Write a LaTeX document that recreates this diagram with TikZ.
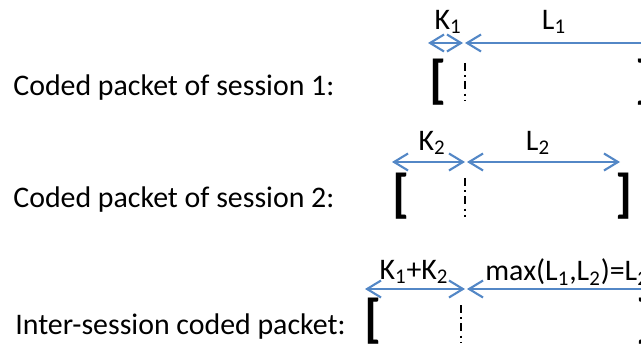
\documentclass[tikz,border=0pt]{standalone}
\usepackage{fontspec}
\setmainfont{Carlito}
\usetikzlibrary{calc,arrows.meta}

\definecolor{dimblue}{RGB}{83,135,198}

\begin{document}
\begin{tikzpicture}[x=0.02cm,y=0.02cm,
  dimarrow/.style={draw=dimblue, line width=1.2pt,
    {Straight Barb[length=2.8mm,width=3.4mm]}-{Straight Barb[length=2.8mm,width=3.4mm]}},
  divider/.style={draw=black, line width=0.8pt, dash pattern=on 4.5pt off 2.5pt on 1pt off 2.5pt},
  brkt/.style={inner sep=0pt, font=\fontsize{30}{34}\selectfont\bfseries},
  lbl/.style={inner sep=0pt, font=\fontsize{17}{20}\selectfont}]
  \useasboundingbox (0,0) rectangle (641,-347);
  \clip (0,0) rectangle (641,-347);

  %% Row labels
  \node[lbl, anchor=west] (ROW1) at (13,-88)  {Coded packet of session 1:};
  \node[lbl, anchor=west] (ROW2) at (13,-200) {Coded packet of session 2:};
  \node[lbl, anchor=west] (ROW3) at (15,-327) {Inter-session coded packet:};

  %% Dimension arrows: row / arrow height / left / middle / right
  \foreach \r/\ya/\xl/\xm/\xr in {1/43/428/464/700, 2/162/392/466/620, 3/289/365/466/700}
  {
    \coordinate (AL\r) at (\xl,-\ya);
    \coordinate (AM\r) at (\xm,-\ya);
    \coordinate (AR\r) at (\xr,-\ya);
    \draw[dimarrow] (AL\r) -- ($(AM\r)-(1,0)$);
    \draw[dimarrow] ($(AM\r)+(1,0)$) -- (AR\r);
  }

  %% Dimension labels
  \node[lbl] (K1) at (448,-22)  {K\textsubscript{1}};
  \node[lbl] (L1) at (554,-22)  {L\textsubscript{1}};
  \node[lbl] (K2) at (432,-143) {K\textsubscript{2}};
  \node[lbl] (L2) at (538,-143) {L\textsubscript{2}};
  \node[lbl] (K12) at (414,-272) {K\textsubscript{1}+K\textsubscript{2}};
  \node[lbl, anchor=west] (LMAX) at (485,-272) {max(L\textsubscript{1},L\textsubscript{2})=L\textsubscript{2}};

  %% Packet brackets
  \node[brkt] (OPEN1)  at (438,-82)  {[};
  \node[brkt] (CLOSE1) at (644,-82)  {]};
  \node[brkt] (OPEN2)  at (401,-196) {[};
  \node[brkt] (CLOSE2) at (624,-196) {]};
  \node[brkt] (OPEN3)  at (373,-321) {[};
  \node[brkt] (CLOSE3) at (645,-321) {]};

  %% Header / payload split
  \draw[divider] (465,-63)  -- (465,-100);
  \draw[divider] (465,-178) -- (465,-217);
  \draw[divider] (461,-305) -- (461,-342);
\end{tikzpicture}
\end{document}
